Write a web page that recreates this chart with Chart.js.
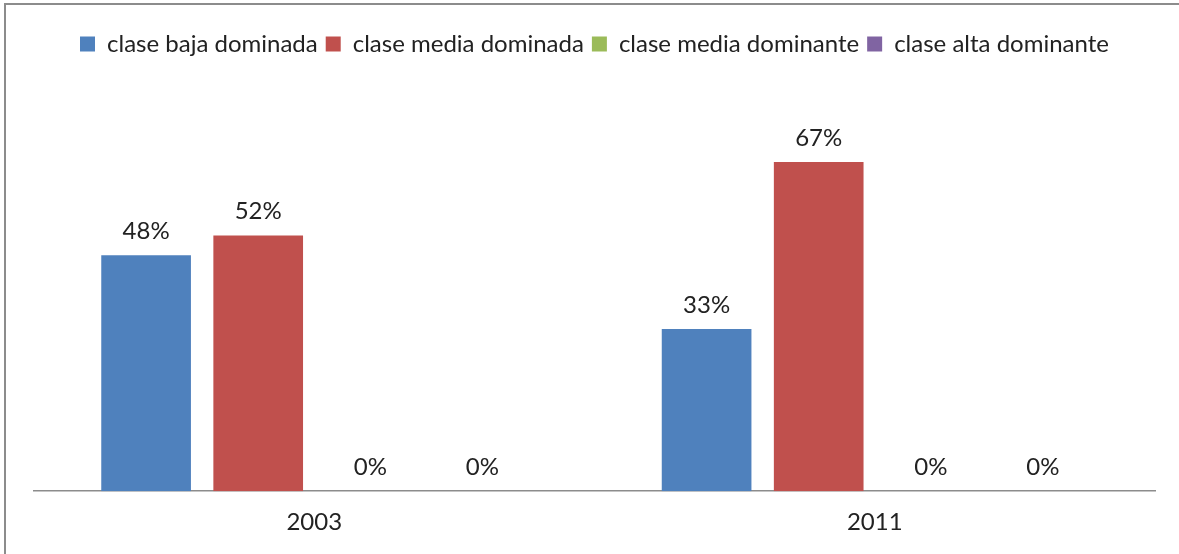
<!DOCTYPE html>
<html>
<head>
<meta charset="utf-8">
<script src="https://cdn.jsdelivr.net/npm/chart.js@4"></script>
<style>
  html, body { margin: 0; padding: 0; background: #fff; }
  #wrap { position: absolute; left: 0; top: 0; width: 1179px; height: 554px; }
  #frame { position: absolute; left: 4px; top: 3px; right: 0; bottom: 0;
           border-left: 2px solid #8c8c8c; border-top: 2px solid #8c8c8c; pointer-events: none; }
</style>
</head>
<body>
<div id="wrap">
  <canvas id="chart" width="1179" height="554"></canvas>
  <div id="frame"></div>
</div>
<script>
// categories and series
const years = ["2003", "2011"];
const seriesNames = ["clase baja dominada", "clase media dominada", "clase media dominante", "clase alta dominante"];
const bajaDominada = [48, 33];
const mediaDominada = [52, 67];
const mediaDominante = [0, 0];
const altaDominante = [0, 0];
const colors = ["#4F81BD", "#C0504D", "#9BBB59", "#8064A2"];

const FONT = "Lato, 'Liberation Sans', sans-serif";
const SIZE = 24;

// value labels above each bar
const barLabels = {
  id: "barLabels",
  afterDatasetsDraw(chart) {
    const c = chart.ctx;
    c.save();
    c.font = SIZE + "px " + FONT;
    c.fillStyle = "#222";
    c.textAlign = "center";
    c.textBaseline = "middle";
    chart.data.datasets.forEach((ds, i) => {
      chart.getDatasetMeta(i).data.forEach((bar, j) => {
        c.fillText(ds.data[j] + "%", bar.x, bar.y - 24);
      });
    });
    c.restore();
  }
};

// extra room under the legend
const legendGap = {
  id: "legendGap",
  beforeInit(chart) {
    const fit = chart.legend.fit;
    chart.legend.fit = function () {
      fit.bind(chart.legend)();
      this.height += 32;
    };
  }
};

const allData = [bajaDominada, mediaDominada, mediaDominante, altaDominante];

new Chart(document.getElementById("chart"), {
  type: "bar",
  data: {
    labels: years,
    datasets: seriesNames.map((name, i) => ({
      label: name,
      data: allData[i],
      backgroundColor: colors[i],
      barPercentage: 0.8,
      categoryPercentage: 0.8
    }))
  },
  options: {
    responsive: false,
    animation: false,
    layout: { padding: { left: 34, right: 24, top: 24, bottom: 0 } },
    plugins: {
      legend: {
        position: "top",
        labels: {
          boxWidth: 15,
          boxHeight: 15,
          padding: 8,
          color: "#222",
          font: { family: FONT, size: SIZE }
        }
      },
      tooltip: { enabled: false }
    },
    scales: {
      x: {
        grid: { display: false, drawTicks: false },
        border: { display: true, color: "#8c8c8c", width: 1.5 },
        ticks: { color: "#222", padding: 17, font: { family: FONT, size: SIZE } }
      },
      y: {
        display: false,
        min: 0,
        max: 80
      }
    }
  },
  plugins: [barLabels, legendGap]
});
</script>
</body>
</html>
